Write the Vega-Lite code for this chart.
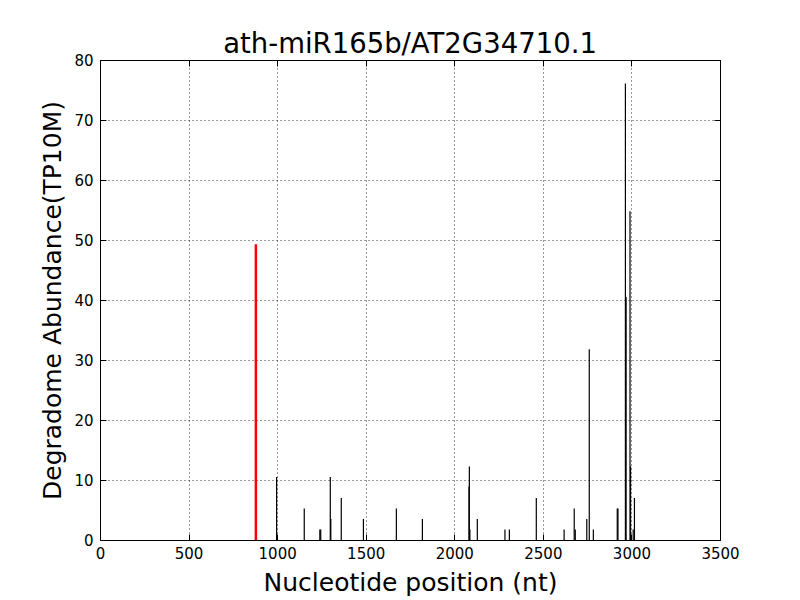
{
  "$schema": "https://vega.github.io/schema/vega-lite/v6.json",
  "width": 620,
  "height": 480,
  "autosize": "none",
  "padding": {"left": 100, "top": 60, "right": 80, "bottom": 60},
  "background": "white",
  "title": {"text": "ath-miR165b/AT2G34710.1", "font": "DejaVu Sans", "fontSize": 27.5, "fontWeight": "normal", "color": "black", "offset": -5},
  "config": {
    "view": {"stroke": "black", "strokeWidth": 1},
    "axis": {"labelFont": "DejaVu Sans", "titleFont": "DejaVu Sans", "labelColor": "black", "titleColor": "black", "domain": false, "tickColor": "black", "labelFontSize": 15, "titleFontSize": 25, "titleFontWeight": "normal", "tickSize": -6, "gridColor": "black", "gridDash": [1, 3], "gridOpacity": 0.8, "labelFlush": false, "labelOverlap": false}
  },
  "data": {"values": [
    {"pos": 880, "ab": 49.3, "type": "target"},
    {"pos": 997, "ab": 10.5, "type": "other"},
    {"pos": 1153, "ab": 5.25, "type": "other"},
    {"pos": 1241, "ab": 1.75, "type": "other"},
    {"pos": 1246, "ab": 1.75, "type": "other"},
    {"pos": 1300, "ab": 10.5, "type": "other"},
    {"pos": 1303, "ab": 3.5, "type": "other"},
    {"pos": 1362, "ab": 7, "type": "other"},
    {"pos": 1487, "ab": 3.5, "type": "other"},
    {"pos": 1673, "ab": 5.25, "type": "other"},
    {"pos": 1820, "ab": 3.5, "type": "other"},
    {"pos": 2083, "ab": 8.9, "type": "other"},
    {"pos": 2085, "ab": 12.25, "type": "other"},
    {"pos": 2088, "ab": 1.75, "type": "other"},
    {"pos": 2130, "ab": 3.5, "type": "other"},
    {"pos": 2286, "ab": 1.75, "type": "other"},
    {"pos": 2311, "ab": 1.75, "type": "other"},
    {"pos": 2463, "ab": 7, "type": "other"},
    {"pos": 2620, "ab": 1.75, "type": "other"},
    {"pos": 2677, "ab": 5.25, "type": "other"},
    {"pos": 2683, "ab": 1.75, "type": "other"},
    {"pos": 2748, "ab": 3.5, "type": "other"},
    {"pos": 2762, "ab": 31.8, "type": "other"},
    {"pos": 2785, "ab": 1.75, "type": "other"},
    {"pos": 2920, "ab": 5.25, "type": "other"},
    {"pos": 2924, "ab": 5.25, "type": "other"},
    {"pos": 2966, "ab": 76.1, "type": "other"},
    {"pos": 2970, "ab": 40.5, "type": "other"},
    {"pos": 2992, "ab": 54.8, "type": "other"},
    {"pos": 2995, "ab": 12.25, "type": "other"},
    {"pos": 3010, "ab": 1.75, "type": "other"},
    {"pos": 3017, "ab": 7, "type": "other"}
  ]},
  "layer": [
    {
      "transform": [{"filter": "datum.type === 'other'"}],
      "mark": {"type": "rule", "color": "black", "strokeWidth": 1.2},
      "encoding": {
        "x": {"field": "pos", "type": "quantitative", "scale": {"domain": [0, 3500], "nice": false}, "axis": {"title": "Nucleotide position (nt)", "values": [0, 500, 1000, 1500, 2000, 2500, 3000, 3500], "format": "d", "grid": true, "labelPadding": 12, "titleY": 50, "titleBaseline": "alphabetic"}},
        "y": {"field": "ab", "type": "quantitative", "scale": {"domain": [0, 80], "nice": false}, "axis": {"title": "Degradome Abundance(TP10M)", "values": [0, 10, 20, 30, 40, 50, 60, 70, 80], "format": "d", "grid": true, "labelPadding": 13, "titleX": -40, "titleBaseline": "alphabetic"}},
        "y2": {"datum": 0}
      }
    },
    {
      "transform": [{"filter": "datum.type === 'target'"}],
      "mark": {"type": "rule", "color": "red", "strokeWidth": 2.5},
      "encoding": {
        "x": {"field": "pos", "type": "quantitative", "axis": null},
        "y": {"field": "ab", "type": "quantitative", "axis": null},
        "y2": {"datum": 0}
      }
    },
    {
      "mark": {"type": "rule", "opacity": 0},
      "encoding": {
        "x": {"field": "pos", "type": "quantitative", "axis": {"orient": "top", "labels": false, "title": null, "values": [0, 500, 1000, 1500, 2000, 2500, 3000, 3500], "grid": false}},
        "y": {"field": "ab", "type": "quantitative", "axis": {"orient": "right", "labels": false, "title": null, "values": [0, 10, 20, 30, 40, 50, 60, 70, 80], "grid": false}},
        "y2": {"datum": 0}
      }
    }
  ],
  "resolve": {"scale": {"x": "shared", "y": "shared"}, "axis": {"x": "independent", "y": "independent"}}
}
